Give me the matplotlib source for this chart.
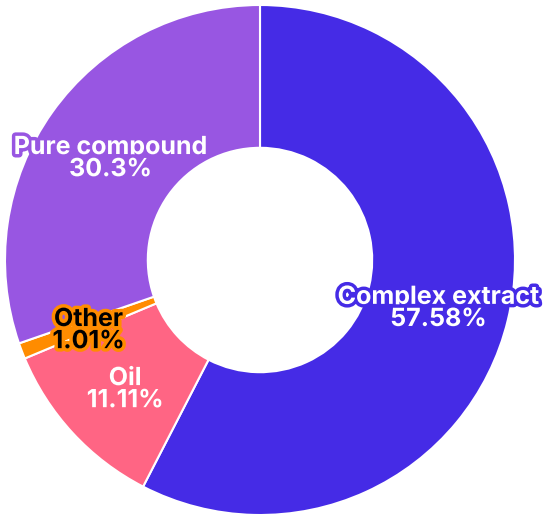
import matplotlib.pyplot as plt
import matplotlib.patheffects as pe
import numpy as np

labels = ['Complex extract', 'Oil', 'Other', 'Pure compound']
values = [57.58, 11.11, 1.01, 30.3]
pct_text = ['57.58%', '11.11%', '1.01%', '30.3%']
colors = ['#452BE6', '#FF6584', '#FF8C00', '#9856E2']
text_colors = ['white', 'white', 'black', 'white']
stroke_colors = ['#452BE6', '#FF6584', '#FF8C00', '#9856E2']

fig = plt.figure(figsize=(5.5, 5.21), dpi=100)
ax = fig.add_axes([5 / 550, 6 / 521, 510 / 550, 510 / 521])

wedges, _ = ax.pie(values, colors=colors, startangle=90, counterclock=False,
                   radius=1.0, wedgeprops=dict(width=0.56, edgecolor='white', linewidth=1.5))

for w, lab, pct, tc, sc in zip(wedges, labels, pct_text, text_colors, stroke_colors):
    ang = np.deg2rad((w.theta1 + w.theta2) / 2)
    r = 0.72
    ax.text(r * np.cos(ang), r * np.sin(ang) - 0.02, f'{lab}\n{pct}', ha='center', va='center',
            fontsize=18, fontweight='bold', family='Inter', color=tc, linespacing=0.95,
            path_effects=[pe.withStroke(linewidth=5, foreground=sc)])

ax.set_xlim(-1, 1)
ax.set_ylim(-1, 1)
ax.set_aspect('equal')
ax.axis('off')

fig.savefig('out.png', dpi=100)
